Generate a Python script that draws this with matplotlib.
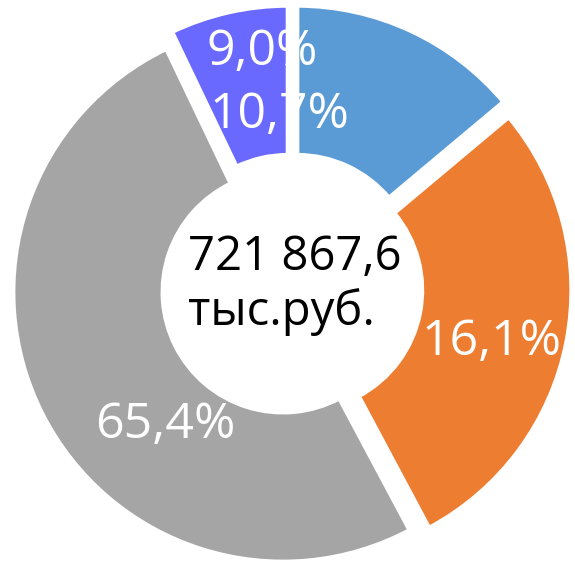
import matplotlib.pyplot as plt

# slice sizes as drawn (share of the ring), labels as printed on the chart
shares = [13.9, 28.3, 50.7, 7.1]
colors = ['#5B9BD5', '#ED7D31', '#A5A5A5', '#6969FF']
labels = ['10,7%', '16,1%', '65,4%', '9,0%']
label_pos = [(279, 128), (491, 355), (165, 438), (262, 65)]  # pixel x, baseline y
total_text = ['721 867,6', 'тыс.руб.']

W, H = 575, 568
fig = plt.figure(figsize=(W / 100, H / 100), dpi=100)
ax = fig.add_axes([0, 0, 1, 1])

# pie works in data units here (1 unit = 1 px), so explode is in px too
ax.pie(shares, colors=colors, startangle=90, counterclock=False,
       center=(291, H - 288), radius=270, explode=[14, 11, 9, 13],
       wedgeprops=dict(width=150, edgecolor='white', linewidth=3.5))

for txt, (x, y) in zip(labels, label_pos):
    ax.text(x, H - y, txt, color='white', fontsize=36, family='Open Sans',
            ha='center', va='baseline')

# total in the hole, left aligned block
ax.text(188, H - 270, total_text[0], color='black', fontsize=34,
        family='Open Sans', ha='left', va='baseline')
ax.text(188, H - 325, total_text[1], color='black', fontsize=34,
        family='Open Sans', ha='left', va='baseline')

ax.set_xlim(0, W)
ax.set_ylim(0, H)
ax.set_aspect('equal')
ax.axis('off')
fig.savefig('out.png', dpi=100)
